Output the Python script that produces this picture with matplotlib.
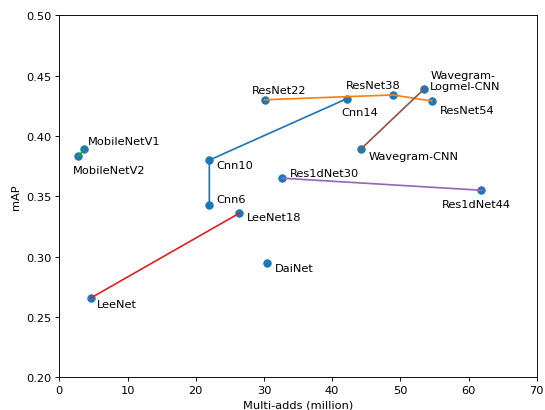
import matplotlib
matplotlib.use("Agg")
import matplotlib.pyplot as plt

names = ["MobileNetV1", "MobileNetV2", "LeeNet", "LeeNet18", "DaiNet",
         "Res1dNet30", "Res1dNet44", "ResNet22", "ResNet38", "ResNet54",
         "Cnn6", "Cnn10", "Cnn14", "Wavegram-CNN", "Wavegram-\nLogmel-CNN"]
multi_adds = [3.6, 2.8, 4.7, 26.4, 30.4, 32.7, 61.9, 30.1, 48.9, 54.6,
              22.0, 22.0, 42.2, 44.2, 53.5]
maps = [0.389, 0.383, 0.266, 0.336, 0.295, 0.365, 0.355, 0.430, 0.434, 0.429,
        0.343, 0.380, 0.431, 0.389, 0.439]

# label offsets in pixels (dx, dy), text baseline-left anchored
offsets = {
    "MobileNetV1": (4, 5), "MobileNetV2": (-6, -17), "LeeNet": (6, -9),
    "LeeNet18": (8, -7), "DaiNet": (8, -8), "Res1dNet30": (8, 2),
    "Res1dNet44": (-40, -17), "ResNet22": (-13, 7), "ResNet38": (-47, 7),
    "ResNet54": (8, -12), "Cnn6": (7, 3), "Cnn10": (7, -8), "Cnn14": (-6, -16),
    "Wavegram-CNN": (8, -10), "Wavegram-\nLogmel-CNN": (6, 0),
}

groups = [
    ["Cnn6", "Cnn10", "Cnn14"],
    ["ResNet22", "ResNet38", "ResNet54"],
    ["MobileNetV1", "MobileNetV2"],
    ["LeeNet", "LeeNet18"],
    ["Res1dNet30", "Res1dNet44"],
    ["Wavegram-CNN", "Wavegram-\nLogmel-CNN"],
]

dpi = 82
W, H = 545, 411
fig = plt.figure(figsize=(W / dpi, H / dpi), dpi=dpi)
ax = fig.add_axes([59.3 / W, 1 - 378.3 / H, (536.7 - 59.3) / W, (378.3 - 16.3) / H])

ax.scatter(multi_adds, maps, color="#1f77b4", s=41)
idx = {n: i for i, n in enumerate(names)}
for g in groups:
    ax.plot([multi_adds[idx[n]] for n in g], [maps[idx[n]] for n in g])

for n, x, y in zip(names, multi_adds, maps):
    dx, dy = offsets[n]
    ax.annotate(n, (x, y), xytext=(dx, dy), textcoords="offset pixels",
                ha="left", va="baseline", linespacing=1.1)

ax.set_xlim(0, 70)
ax.set_ylim(0.2, 0.5)
ax.set_xlabel("Multi-adds (million)")
ax.set_ylabel("mAP")
fig.savefig("out.png", dpi=dpi)
